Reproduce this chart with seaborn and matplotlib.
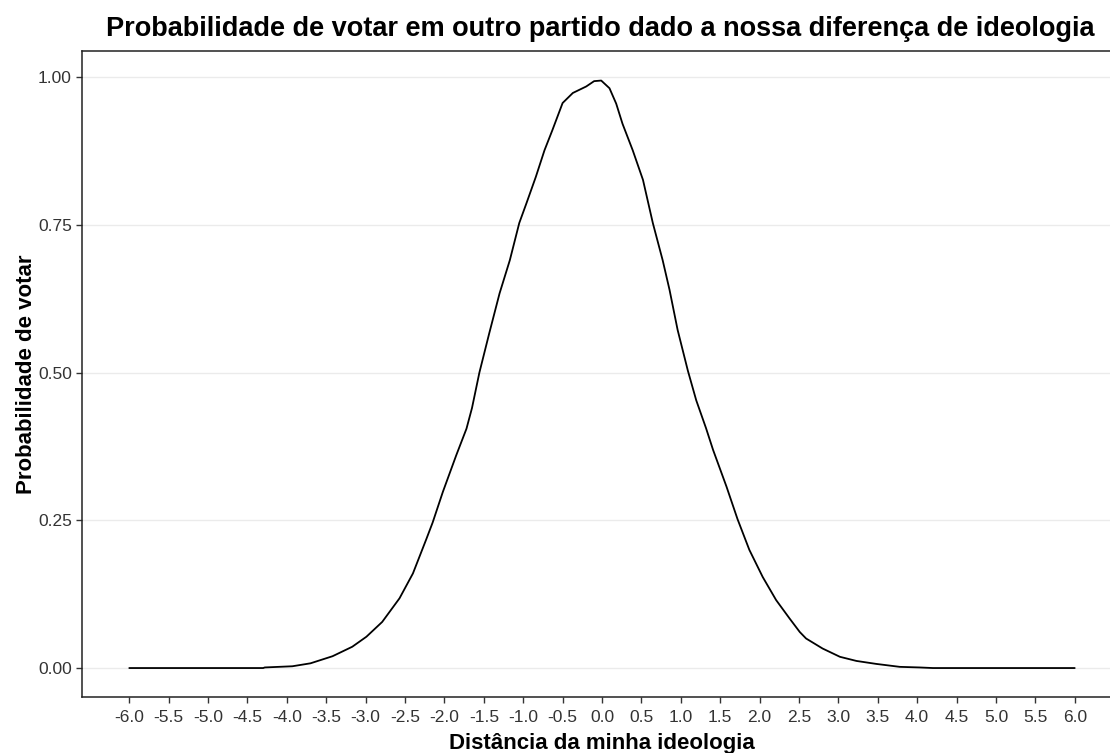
import numpy as np
import pandas as pd
import matplotlib
matplotlib.use("Agg")
import matplotlib.pyplot as plt
import seaborn as sns

# ---- dados ----
distancia = [-6.0, -4.3, -4.28, -3.93, -3.7, -3.42, -3.17, -2.99, -2.79, -2.57,
             -2.40, -2.23, -2.15, -2.02, -1.85, -1.72, -1.65, -1.556, -1.43, -1.30,
             -1.17, -1.05, -0.96, -0.84, -0.73, -0.63, -0.50, -0.37, -0.20, -0.10,
             -0.01, 0.095, 0.18, 0.26, 0.39, 0.52, 0.645, 0.77, 0.857, 0.96,
             1.09, 1.196, 1.32, 1.41, 1.58, 1.72, 1.87, 2.04, 2.21, 2.38,
             2.51, 2.59, 2.80, 3.02, 3.23, 3.48, 3.78, 4.03, 4.2, 6.0]
probabilidade = [0.0, 0.0, 0.001, 0.003, 0.008, 0.020, 0.036, 0.053, 0.078, 0.118,
                 0.160, 0.218, 0.246, 0.298, 0.360, 0.405, 0.440, 0.500, 0.567, 0.634,
                 0.690, 0.753, 0.786, 0.831, 0.876, 0.910, 0.956, 0.973, 0.984, 0.993,
                 0.994, 0.981, 0.955, 0.921, 0.876, 0.826, 0.753, 0.690, 0.640, 0.572,
                 0.503, 0.453, 0.406, 0.369, 0.307, 0.252, 0.200, 0.154, 0.115, 0.084,
                 0.061, 0.050, 0.033, 0.019, 0.012, 0.007, 0.002, 0.001, 0.0, 0.0]

x_ticks = np.arange(-6.0, 6.01, 0.5)
y_ticks = [0.00, 0.25, 0.50, 0.75, 1.00]

df = pd.DataFrame({"dist": distancia, "prob": probabilidade})

sns.set_theme(style="white")
plt.rcParams['font.family'] = ['Liberation Sans', 'DejaVu Sans']

fig = plt.figure(figsize=(11.1, 7.53), dpi=100)
ax = fig.add_axes([82 / 1110, 56 / 753, 1040 / 1110, 646 / 753])

sns.lineplot(data=df, x="dist", y="prob", ax=ax, color="black", linewidth=1.3)

ax.set_xlim(-6.6, 6.6)
ax.set_ylim(-0.049, 1.044)
ax.set_xticks(x_ticks)
ax.set_xticklabels([f"{v:.1f}" for v in x_ticks])
ax.set_yticks(y_ticks)
ax.set_yticklabels([f"{v:.2f}" for v in y_ticks])

# grade só horizontal
ax.yaxis.grid(True, color="#EBEBEB", linewidth=1)
ax.xaxis.grid(False)
ax.set_axisbelow(True)

for s in ["left", "bottom", "top", "right"]:
    ax.spines[s].set_color("#222222")
    ax.spines[s].set_linewidth(1.1)

ax.tick_params(axis="both", which="major", length=4.3, width=1, color="#333333",
               labelsize=12.5, labelcolor="#333333", bottom=True, left=True)
ax.tick_params(axis="x", pad=5)
ax.tick_params(axis="y", pad=3)

ax.set_xlabel("Distância da minha ideologia", fontsize=16, fontweight="bold",
              color="black", labelpad=6)
ax.set_ylabel("Probabilidade de votar", fontsize=16, fontweight="bold",
              color="black", labelpad=1)
fig.text(600 / 1110, 1 - 29 / 753,
         "Probabilidade de votar em outro partido dado a nossa diferença de ideologia",
         ha="center", va="center", fontsize=19.5, fontweight="bold", color="black")

fig.savefig("out.png", dpi=100)
